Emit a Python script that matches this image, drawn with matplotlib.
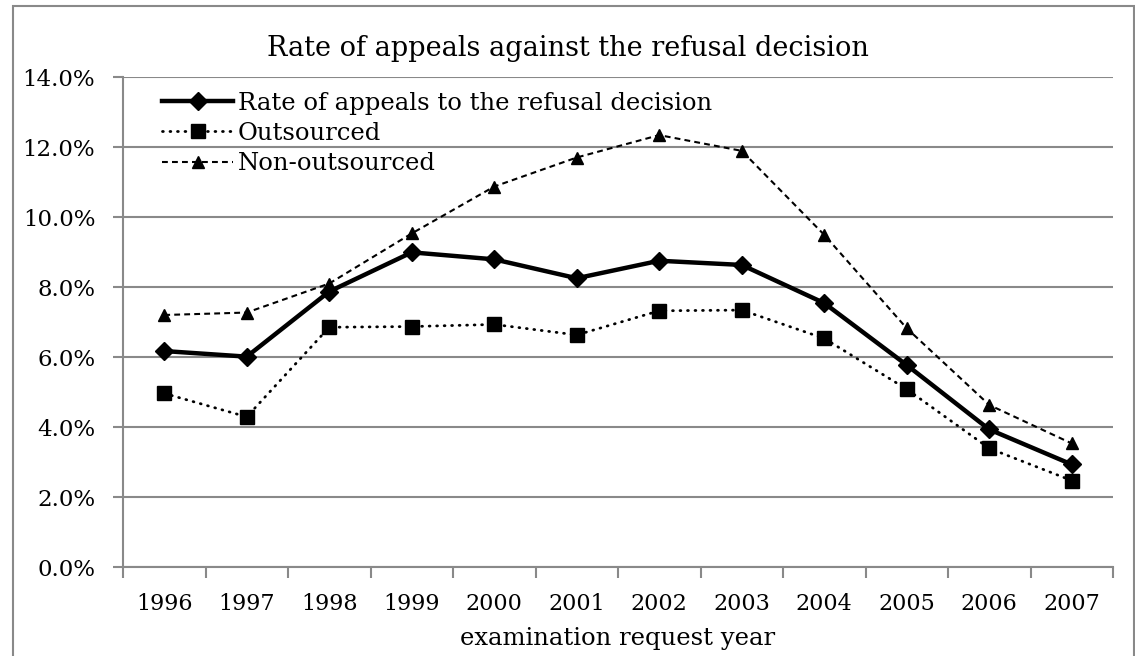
import numpy as np
import matplotlib
matplotlib.use("Agg")
import matplotlib.pyplot as plt
from matplotlib.patches import Rectangle

# values (percent)
years = ["1996", "1997", "1998", "1999", "2000", "2001",
         "2002", "2003", "2004", "2005", "2006", "2007"]
rate_all = [6.17, 6.01, 7.87, 8.99, 8.79, 8.25, 8.75, 8.63, 7.54, 5.77, 3.93, 2.93]
rate_outsourced = [4.96, 4.29, 6.85, 6.87, 6.93, 6.63, 7.32, 7.34, 6.53, 5.08, 3.39, 2.47]
rate_non_outsourced = [7.20, 7.27, 8.10, 9.53, 10.87, 11.70, 12.34, 11.89, 9.49, 6.82, 4.63, 3.53]
y_ticks = [0, 2, 4, 6, 8, 10, 12, 14]

plt.rcParams['font.family'] = ['DejaVu Serif']
grid_grey = '#898989'

fig = plt.figure(figsize=(11.35, 6.56), dpi=100)
ax = fig.add_axes([123 / 1135, 1 - 567 / 656, 990 / 1135, 490 / 656])

x = np.arange(len(years))
ax.plot(x, rate_all, color='black', lw=3.2, marker='D', ms=9,
        label='Rate of appeals to the refusal decision')
ax.plot(x, rate_outsourced, color='black', lw=2.0, ls=(0, (0.3, 2.4)),
        dash_capstyle='round', marker='s', ms=9.5,
        label='Outsourced')
ax.plot(x, rate_non_outsourced, color='black', lw=1.5, ls=(0, (2.8, 2.0)),
        marker='^', ms=8, label='Non-outsourced')

# axes styling, Excel look
ax.set_xlim(-0.5, len(years) - 0.5)
ax.set_ylim(0, 14)
ax.set_yticks(y_ticks)
ax.set_yticklabels([f"{v:.1f}%" for v in y_ticks], fontsize=16.5)
ax.yaxis.grid(True, color=grid_grey, lw=1.5)
ax.set_axisbelow(True)

ax.set_xticks(np.arange(-0.5, len(years), 1.0))
ax.set_xticklabels([])
ax.set_xticks(x, minor=True)
ax.set_xticklabels(years, minor=True, fontsize=16)
ax.tick_params(axis='x', which='major', length=8, width=1.5, color=grid_grey, direction='out')
ax.tick_params(axis='x', which='minor', length=0, pad=19)
ax.tick_params(axis='y', length=7, width=1.5, color=grid_grey, pad=13)

for side in ['top', 'right']:
    ax.spines[side].set_visible(False)
for side in ['left', 'bottom']:
    ax.spines[side].set_color(grid_grey)
    ax.spines[side].set_linewidth(1.5)

ax.set_xlabel('examination request year', fontsize=17.5, labelpad=8)

fig.text(0.5, 1 - 48 / 656, 'Rate of appeals against the refusal decision',
         ha='center', va='center', fontsize=19.5)

leg = ax.legend(loc='upper left', bbox_to_anchor=(0.025, 1.0), frameon=False,
                fontsize=17.5, handlelength=2.9, handletextpad=0.2,
                labelspacing=0.3, borderaxespad=0.2)

# chart border
fig.patches.append(Rectangle((13 / 1135, -0.05), 1121 / 1135, 1.05 - 6 / 656,
                             transform=fig.transFigure, fill=False,
                             edgecolor=grid_grey, lw=1.5))

fig.savefig('out.png', dpi=100)
